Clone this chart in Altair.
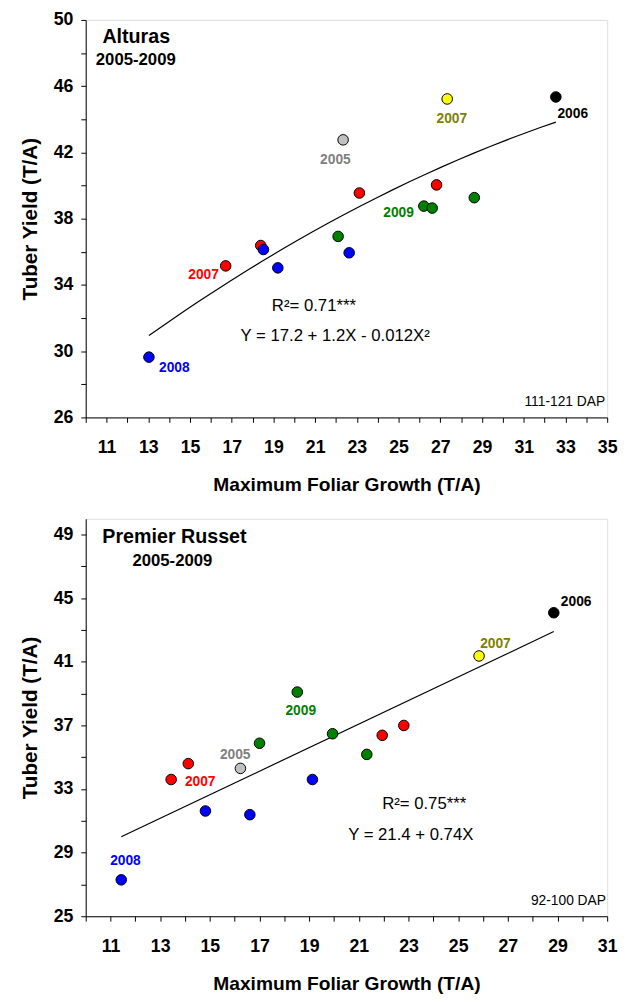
import altair as alt
import pandas as pd

FONT = "Liberation Sans"

# ---------------- Alturas (top panel) ----------------
alt_x = [22.34, 27.33, 32.54, 23.12, 26.82, 28.63, 26.21, 26.61, 22.10, 22.63, 18.39, 18.52, 19.21, 16.71, 13.03]
alt_y = [42.76, 45.23, 45.35, 39.55, 40.04, 39.27, 38.76, 38.64, 36.93, 35.94, 36.38, 36.14, 35.03, 35.15, 29.64]
alt_grp = ["2005", "2007-B", "2006", "2007-A", "2007-A", "2009", "2009", "2009", "2009",
           "2008", "2007-A", "2008", "2008", "2007-A", "2008"]

alt_lab_text = ["2008", "2007", "2009", "2005", "2007", "2006"]
alt_lab_grp = ["2008", "2007-A", "2009", "2005", "2007-B", "2006"]
alt_lab_x = [14.25, 15.65, 25.0, 21.97, 27.55, 33.35]
alt_lab_y = [28.97, 34.6, 38.36, 41.53, 44.0, 44.3]

alt_x_ticks = list(range(10, 36))
alt_y_ticks = list(range(26, 51, 2))

# ---------------- Premier Russet (bottom panel) ----------------
pr_x = [28.85, 25.84, 18.52, 19.94, 17.0, 22.81, 21.94, 21.32, 14.13, 16.23, 13.44, 19.13, 14.82, 16.61, 11.43]
pr_y = [44.09, 41.37, 39.10, 36.48, 35.88, 37.0, 36.38, 35.18, 34.6, 34.30, 33.6, 33.6, 31.62, 31.39, 27.29]
pr_grp = ["2006", "2007-B", "2009", "2009", "2009", "2007-A", "2007-A", "2009", "2007-A",
          "2005", "2007-A", "2008", "2008", "2008", "2008"]

pr_lab_text = ["2006", "2007", "2009", "2005", "2007", "2008"]
pr_lab_grp = ["2006", "2007-B", "2009", "2005", "2007-A", "2008"]
pr_lab_x = [29.75, 26.5, 18.66, 16.02, 14.61, 11.6]
pr_lab_y = [44.73, 42.15, 37.93, 35.12, 33.43, 28.48]

pr_x_ticks = list(range(10, 32))
pr_y_ticks = list(range(25, 50, 2))

# groups and colours
grp_domain = ["2005", "2006", "2007-A", "2007-B", "2008", "2009"]
point_fill = ["#C0C0C0", "#000000", "#FF0000", "#FFFF00", "#0000FF", "#008000"]
label_col = ["#808080", "#000000", "#FF0000", "#808000", "#0000FF", "#008000"]


def axis(title, values, expr, lab_pad, title_pad, title_size):
    return alt.Axis(
        title=title, values=values, labelExpr=expr, grid=False,
        tickSize=5, tickColor="black", domainColor="black",
        labelFont=FONT, labelFontSize=18, labelFontWeight="bold", labelColor="black",
        labelPadding=lab_pad, labelFlush=False, labelOverlap=False,
        titleFont=FONT, titleFontSize=title_size, titleFontWeight="bold", titleColor="black",
        titlePadding=title_pad,
    )


def panel(px, py, pg, lx, ly, lt, lg, xdom, xticks, ydom, yticks, ymod, method, order,
          name, years, stat1, stat2, dap, name_pos, years_pos, s1_pos, s2_pos, dap_pos):
    pts = pd.DataFrame({"x": px, "y": py, "grp": pg})
    labs = pd.DataFrame({"x": lx, "y": ly, "text": lt, "grp": lg})

    xs = alt.Scale(domain=xdom, nice=False, zero=False)
    ys = alt.Scale(domain=ydom, nice=False, zero=False)
    X = alt.X("x:Q", scale=xs,
              axis=axis("Maximum Foliar Growth (T/A)", xticks,
                        "datum.value % 2 == 1 ? datum.label : ''", 17, 19, 19.5))
    Y = alt.Y("y:Q", scale=ys,
              axis=axis("Tuber Yield (T/A)", yticks,
                        f"datum.value % 4 == {ymod} ? datum.label : ''", 8, 13, 21))

    base = alt.Chart(pts)
    if method == "poly":
        reg = base.transform_regression("x", "y", method="poly", order=order)
    else:
        reg = base.transform_regression("x", "y", method="linear")
    line = reg.mark_line(color="black", strokeWidth=1.2).encode(x=X, y=Y)

    dots = base.mark_circle(size=115, stroke="black", strokeWidth=1, opacity=1).encode(
        x=X, y=Y,
        fill=alt.Fill("grp:N", scale=alt.Scale(domain=grp_domain, range=point_fill), legend=None),
    )

    yl = alt.Chart(labs).mark_text(font=FONT, fontSize=14, fontWeight="bold").encode(
        x=X, y=Y, text="text:N",
        color=alt.Color("grp:N", scale=alt.Scale(domain=grp_domain, range=label_col), legend=None),
    )

    def ann(text, pos, align, size, weight):
        d = pd.DataFrame({"x": [pos[0]], "y": [pos[1]], "t": [text]})
        return alt.Chart(d).mark_text(font=FONT, fontSize=size, fontWeight=weight,
                                      align=align, color="black").encode(x=X, y=Y, text="t:N")

    layers = [
        line, dots, yl,
        ann(name, name_pos, "left", 20, "bold"),
        ann(years, years_pos, "center", 17, "bold"),
        ann(stat1, s1_pos, "center", 17, "normal"),
        ann(stat2, s2_pos, "center", 17, "normal"),
        ann(dap, dap_pos, "right", 14, "normal"),
    ]
    return alt.layer(*layers).properties(width=530, height=404)


top = panel(alt_x, alt_y, alt_grp, alt_lab_x, alt_lab_y, alt_lab_text, alt_lab_grp,
            [10, 35], alt_x_ticks, [26, 50], alt_y_ticks, 2, "poly", 2,
            "Alturas", "2005-2009", "R²= 0.71***", "Y = 17.2 + 1.2X - 0.012X²", "111-121 DAP",
            (10.8, 48.95), (12.4, 47.57), (20.94, 32.71), (21.96, 30.93), (34.9, 26.91))

bottom = panel(pr_x, pr_y, pr_grp, pr_lab_x, pr_lab_y, pr_lab_text, pr_lab_grp,
               [10, 31], pr_x_ticks, [25, 50], pr_y_ticks, 1, "linear", 1,
               "Premier Russet", "2005-2009", "R²= 0.75***", "Y = 21.4 + 0.74X", "92-100 DAP",
               (10.67, 48.83), (13.49, 47.34), (23.63, 32.05), (23.09, 30.13), (30.95, 25.95))

chart = alt.vconcat(top, bottom, spacing=24).properties(
    padding={"left": 11, "top": -6, "right": 0, "bottom": 0}
).configure_view(stroke="#555555", strokeWidth=1).configure(background="white")

chart.save("out.html", embed_options={"renderer": "svg", "actions": False})
